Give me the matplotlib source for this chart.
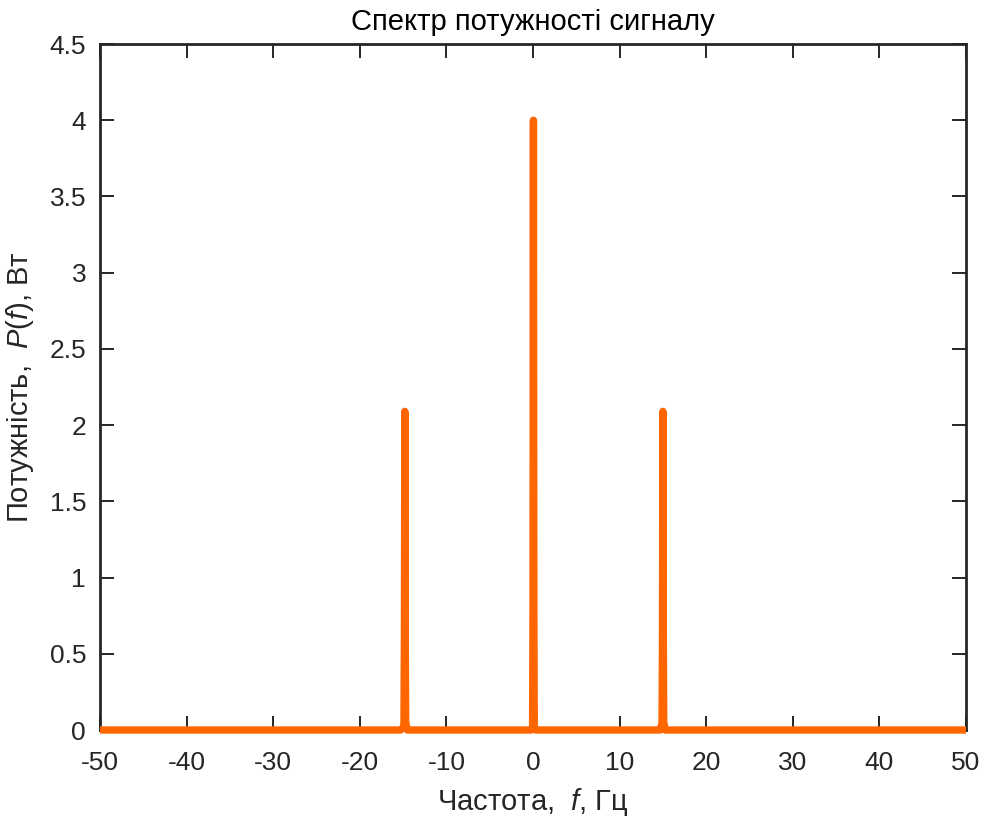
import matplotlib.pyplot as plt

plt.rcParams['font.family'] = ['Liberation Sans', 'DejaVu Sans']
plt.rcParams['mathtext.fontset'] = 'custom'
plt.rcParams['mathtext.it'] = 'Liberation Sans:italic'
plt.rcParams['mathtext.rm'] = 'Liberation Sans'

# sampled spectrum: flat floor with three narrow lines
freq = [-50.0, -15.3, -15.0, -14.9, -14.85, -14.8, -14.75, -14.7, -14.5,
        -0.2, -0.05, 0.0, 0.05, 0.1, 0.15, 0.3,
        14.7, 14.9, 14.95, 15.0, 15.05, 15.1, 15.3, 50.0]
power = [0.0, 0.0, 0.01, 0.05, 0.6, 2.09, 0.6, 0.05, 0.0,
         0.0, 0.01, 0.8, 4.0, 0.8, 0.01, 0.0,
         0.0, 0.05, 0.6, 2.09, 0.6, 0.05, 0.0, 0.0]

xticks = list(range(-50, 51, 10))
yticks = [0, 0.5, 1, 1.5, 2, 2.5, 3, 3.5, 4, 4.5]
ytick_labels = ['0', '0.5', '1', '1.5', '2', '2.5', '3', '3.5', '4', '4.5']

fig = plt.figure(figsize=(9.86, 8.16), dpi=100)
ax = fig.add_axes([100 / 986, 86 / 816, 866 / 986, 686 / 816])

# drawn above the spines, like MATLAB does
ax.plot(freq, power, color='#ff6600', linewidth=5.3, clip_on=False, zorder=5,
        solid_capstyle='butt', solid_joinstyle='round')

ax.set_xlim(-50, 50)
ax.set_ylim(0, 4.5)
ax.set_xticks(xticks)
ax.set_xticklabels([str(t) for t in xticks])
ax.set_yticks(yticks)
ax.set_yticklabels(ytick_labels)

ax.tick_params(direction='in', top=True, right=True, length=10, width=1.4,
               labelsize=19, colors='#262626')
ax.tick_params(axis='x', pad=15)
ax.tick_params(axis='y', pad=10)
for s in ax.spines.values():
    s.set_linewidth(2)
    s.set_color('#262626')

ax.set_title('Спектр потужності сигналу', fontsize=21, color='black', pad=10)
ax.set_xlabel('Частота,  $f$, Гц', fontsize=21, color='#262626', labelpad=8)
ax.set_ylabel('Потужність,  $P(f)$, Вт', fontsize=21, color='#262626', labelpad=10)

fig.savefig('out.png', dpi=100)
